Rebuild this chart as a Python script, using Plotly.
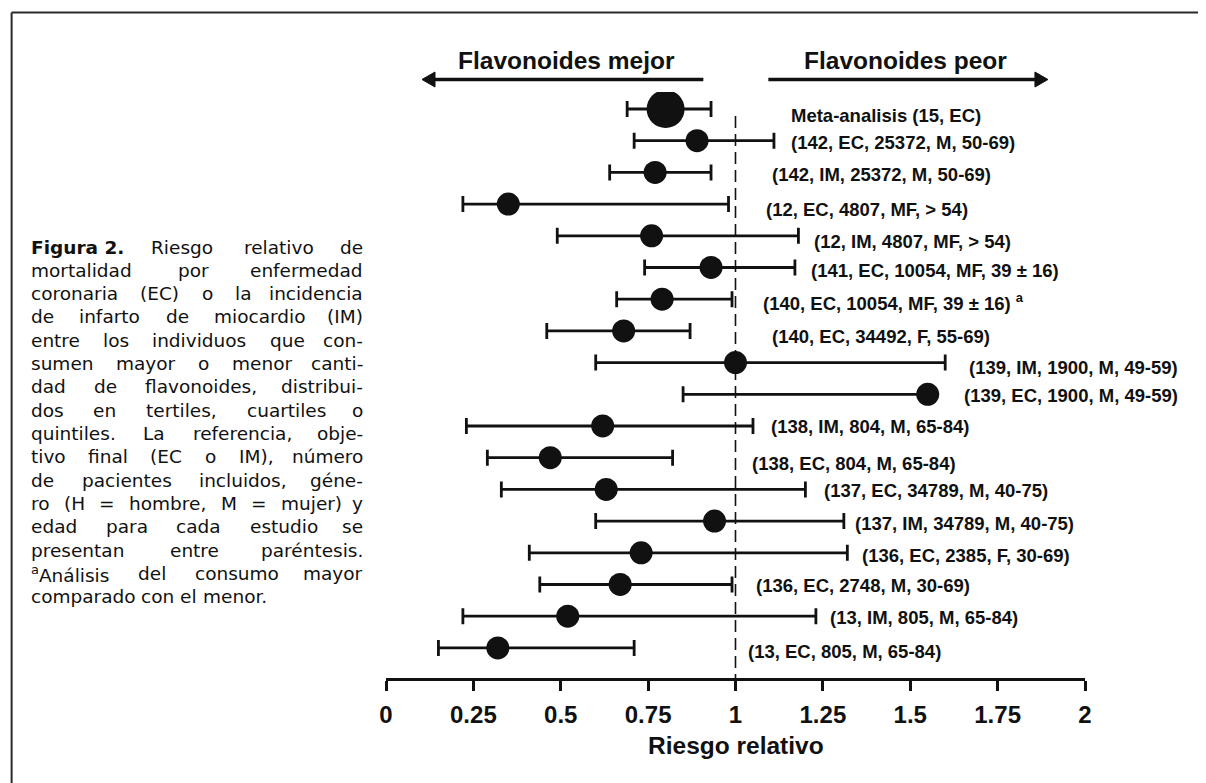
import plotly.graph_objects as go

# ---------------- data ----------------
labels = [
    "Meta-analisis (15, EC)",
    "(142, EC, 25372, M, 50-69)",
    "(142, IM, 25372, M, 50-69)",
    "(12, EC, 4807, MF, > 54)",
    "(12, IM, 4807, MF, > 54)",
    "(141, EC, 10054, MF, 39 ± 16)",
    "(140, EC, 10054, MF, 39 ± 16) <sup>a</sup>",
    "(140, EC, 34492, F, 55-69)",
    "(139, IM, 1900, M, 49-59)",
    "(139, EC, 1900, M, 49-59)",
    "(138, IM, 804, M, 65-84)",
    "(138, EC, 804, M, 65-84)",
    "(137, EC, 34789, M, 40-75)",
    "(137, IM, 34789, M, 40-75)",
    "(136, EC, 2385, F, 30-69)",
    "(136, EC, 2748, M, 30-69)",
    "(13, IM, 805, M, 65-84)",
    "(13, EC, 805, M, 65-84)",
]
rr = [0.80, 0.89, 0.77, 0.35, 0.76, 0.93, 0.79, 0.68, 1.00, 1.55,
      0.62, 0.47, 0.63, 0.94, 0.73, 0.67, 0.52, 0.32]
lo = [0.69, 0.71, 0.64, 0.22, 0.49, 0.74, 0.66, 0.46, 0.60, 0.85,
      0.23, 0.29, 0.33, 0.60, 0.41, 0.44, 0.22, 0.15]
hi = [0.93, 1.11, 0.93, 0.98, 1.18, 1.17, 0.99, 0.87, 1.60, 1.56,
      1.05, 0.82, 1.20, 1.31, 1.32, 0.99, 1.23, 0.71]
tick_vals = [0, 0.25, 0.5, 0.75, 1, 1.25, 1.5, 1.75, 2]
tick_text = ["0", "0.25", "0.5", "0.75", "1", "1.25", "1.5", "1.75", "2"]
x_title = "Riesgo relativo"
header_left = "Flavonoides mejor"
header_right = "Flavonoides peor"
caption_lines = [
    "<b>Figura\u00a02.</b> Riesgo relativo de",
    "mortalidad por enfermedad",
    "coronaria (EC) o la incidencia",
    "de infarto de miocardio (IM)",
    "entre los individuos que con-",
    "sumen mayor o menor canti-",
    "dad de flavonoides, distribui-",
    "dos en tertiles, cuartiles o",
    "quintiles. La referencia, obje-",
    "tivo final (EC o IM), número",
    "de pacientes incluidos, géne-",
    "ro (H = hombre, M = mujer) y",
    "edad para cada estudio se",
    "presentan entre paréntesis.",
    "<sup>a</sup>Análisis del consumo mayor",
    "comparado con el menor.",
]

# ---------------- layout helpers ----------------
W, H = 1206, 783
L, R, T, B = 377.6, 129, 84, 113
PW, PH = W - L - R, H - T - B
X0, X1 = 0, 2

def xp(px):
    return (px - L) / PW

def yp(py):
    return (H - B - py) / PH

def dx2px(v):
    return L + (v - X0) / (X1 - X0) * PW

rows = list(range(len(rr)))
sizes = [38] + [23] * (len(rr) - 1)
label_x = [1.152, 1.152, 1.100, 1.081, 1.218, 1.209, 1.074, 1.100, 1.662,
           1.649, 1.097, 1.042, 1.247, 1.336, 1.356, 1.054, 1.264, 1.029]
label_dy = [7, 2, 2, 5, 6, 3, 3, 6, 5, 1, 1, 6, 1, 2, 3, 1, 1, 4]

INK = "#111111"
LABEL_FONT = dict(family="Liberation Sans, Arial, sans-serif", size=18.5, color=INK, weight="bold")
BIG_FONT = dict(family="Liberation Sans, Arial, sans-serif", size=24.5, color=INK, weight="bold")
TICK_FONT = dict(family="Liberation Sans, Arial, sans-serif", size=24, color=INK, weight="bold")
CAP_FAMILY = "DejaVu Sans, sans-serif"
CAP_SIZE = 18.5

fig = go.Figure()
fig.add_trace(go.Scatter(
    x=rr, y=rows, mode="markers",
    marker=dict(size=sizes, color=INK, opacity=1, line=dict(width=0)),
    error_x=dict(type="data", symmetric=False,
                 array=[h - r for h, r in zip(hi, rr)],
                 arrayminus=[r - l for r, l in zip(rr, lo)],
                 color=INK, thickness=2.8, width=8),
    hoverinfo="skip", showlegend=False,
))

shapes = []
# reference line at RR = 1
shapes.append(dict(type="line", xref="x", yref="y", x0=1, x1=1, y0=0.22, y1=17.95,
                   line=dict(color=INK, width=1.6, dash="12px,6px")))
# figure border (top and left)
shapes.append(dict(type="line", xref="paper", yref="paper", x0=xp(3), x1=xp(1206),
                   y0=yp(4.5), y1=yp(4.5), line=dict(color="#2a2a2a", width=2)))
shapes.append(dict(type="line", xref="paper", yref="paper", x0=xp(3), x1=xp(3),
                   y0=yp(4.5), y1=yp(783), line=dict(color="#2a2a2a", width=2)))

# direction arrows (decoration above the plot)
ARROW_Y = 71.5
HEAD_LEN, HEAD_HALF = 13, 7.5
for head, tail in [(0.103, 0.908), (1.894, 1.094)]:
    hx, tx = dx2px(head), dx2px(tail)
    sgn = 1 if tx > hx else -1
    base = hx + sgn * HEAD_LEN
    shapes.append(dict(type="line", xref="paper", yref="paper",
                       x0=xp(base), x1=xp(tx), y0=yp(ARROW_Y), y1=yp(ARROW_Y),
                       line=dict(color=INK, width=3.5)))
    path = (f"M {xp(hx)} {yp(ARROW_Y)} L {xp(base)} {yp(ARROW_Y - HEAD_HALF)} "
            f"L {xp(base)} {yp(ARROW_Y + HEAD_HALF)} Z")
    shapes.append(dict(type="path", xref="paper", yref="paper", path=path,
                       fillcolor=INK, line=dict(color=INK, width=1)))

annotations = []
for i, (lab, lx, dy) in enumerate(zip(labels, label_x, label_dy)):
    annotations.append(dict(x=lx, y=i, xref="x", yref="y", text=lab, showarrow=False,
                            xanchor="left", yanchor="middle", yshift=-dy, font=LABEL_FONT))

# headers
annotations.append(dict(x=0.516, y=yp(53), xref="x", yref="paper", text=f"<b>{header_left}</b>",
                        showarrow=False, xanchor="center", yanchor="middle", font=BIG_FONT))
annotations.append(dict(x=1.485, y=yp(53), xref="x", yref="paper", text=f"<b>{header_right}</b>",
                        showarrow=False, xanchor="center", yanchor="middle", font=BIG_FONT))

# axis title
annotations.append(dict(x=1, y=yp(737.5), xref="x", yref="paper", text=f"<b>{x_title}</b>",
                        showarrow=False, xanchor="center", yanchor="middle", font=BIG_FONT))

# ---------------- justified caption ----------------
DV = {' ': .318, '\u00a0': .318, 'a': .613, 'b': .635, 'c': .550, 'd': .635, 'e': .615,
      'f': .352, 'g': .635, 'h': .634, 'i': .278, 'j': .278, 'k': .579, 'l': .278, 'm': .974,
      'n': .634, 'o': .612, 'p': .635, 'q': .635, 'r': .411, 's': .521, 't': .392, 'u': .634,
      'v': .592, 'w': .818, 'x': .592, 'y': .592, 'z': .525, 'A': .684, 'B': .686, 'C': .698,
      'D': .770, 'E': .632, 'F': .575, 'G': .775, 'H': .752, 'I': .295, 'L': .557, 'M': .863,
      'N': .748, 'O': .787, 'P': .603, 'R': .695, 'S': .635, 'T': .611, 'U': .732, '(': .390,
      ')': .390, ',': .318, '.': .318, '-': .361, '=': .838, 'á': .613, 'é': .615, 'ú': .634}

def word_width(w):
    bold = w.startswith("<b>")
    sup = 0.0
    if w.startswith("<sup>"):
        inner = w[5:w.index("</sup>")]
        sup = sum(DV.get(c, .6) for c in inner) * 0.7
        w = w[w.index("</sup>") + 6:]
    w = w.replace("<b>", "").replace("</b>", "")
    base = sum(DV.get(c, .636 if c.isdigit() else .6) for c in w) + sup
    return base * CAP_SIZE * (1.1 if bold else 1.0)

CAP_L, CAP_R = 20, 357
for k, line in enumerate(caption_lines):
    ypx = 239 + 23.33 * k
    words = line.split(" ")
    justify = k < len(caption_lines) - 1
    widths = [word_width(w) for w in words]
    if justify and len(words) > 1:
        gap = (CAP_R - CAP_L - sum(widths)) / (len(words) - 1)
    else:
        gap = DV[' '] * CAP_SIZE
    xcur = CAP_L
    for j, (w, ww) in enumerate(zip(words, widths)):
        last = justify and j == len(words) - 1 and len(words) > 1
        annotations.append(dict(
            x=xp(CAP_R if last else xcur), y=yp(ypx), xref="paper", yref="paper",
            text=w, showarrow=False, xanchor="right" if last else "left", yanchor="middle",
            font=dict(family=CAP_FAMILY, size=CAP_SIZE, color=INK)))
        xcur += ww + gap

fig.update_layout(
    width=W, height=H, autosize=False,
    margin=dict(l=L, r=R, t=T, b=B, pad=0),
    paper_bgcolor="white", plot_bgcolor="white",
    shapes=shapes, annotations=annotations,
    xaxis=dict(range=[X0, X1], tickvals=tick_vals, ticktext=tick_text,
               showline=True, linecolor=INK, linewidth=2.5,
               ticks="outside", ticklen=10, tickwidth=2.5, tickcolor=INK,
               showgrid=False, zeroline=False, ticklabelstandoff=3,
               tickfont=TICK_FONT),
    yaxis=dict(range=[17.95, -0.536], visible=False, showgrid=False, zeroline=False),
)

fig.write_html("out.html")
